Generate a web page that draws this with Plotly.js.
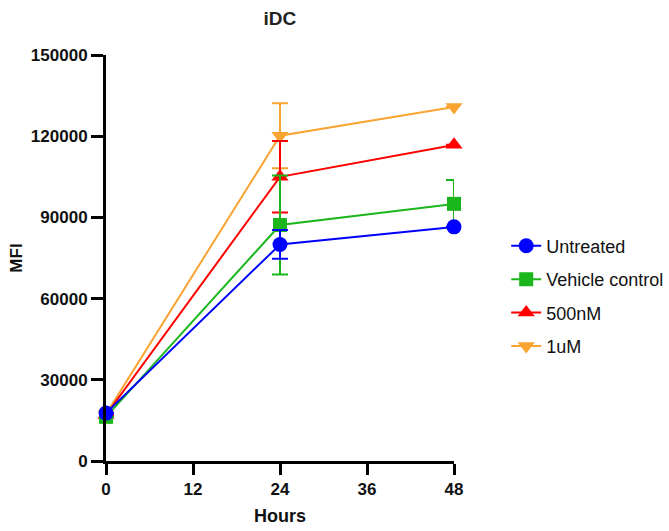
<!DOCTYPE html>
<html>
<head>
<meta charset="utf-8">
<script src="https://cdn.plot.ly/plotly-3.0.1.min.js"></script>
<style>html,body{margin:0;padding:0;background:#fff;}#chart{width:669px;height:531px;}</style>
</head>
<body>
<div id="chart"></div>
<script>
const hours = [0, 24, 48];
const seriesNames = ["Untreated", "Vehicle control", "500nM", "1uM"];
const untreated = [17700, 80000, 86500];
const untreatedErr = [0, 5300, 0];
const vehicle = [16300, 87200, 95000];
const vehicleErr = [0, 18300, 8800];
const nm500 = [17000, 105000, 116800];
const nm500Err = [0, 13200, 0];
const um1 = [17300, 120200, 130800];
const um1Err = [0, 12000, 0];
const xTicks = [0, 12, 24, 36, 48];
const yTicks = [0, 30000, 60000, 90000, 120000, 150000];

const colors = ["#0000ff", "#1bb61b", "#ff0000", "#f9a431"];
const symbols = ["circle", "square", "triangle-up", "triangle-down"];
const sizes = [15, 14, 15, 15];
const values = [untreated, vehicle, nm500, um1];
const errs = [untreatedErr, vehicleErr, nm500Err, um1Err];

const traces = [];
for (let i = seriesNames.length - 1; i >= 0; i--) {
  traces.push({
    x: hours, y: values[i], name: seriesNames[i], type: "scatter", mode: "lines+markers",
    legendrank: i + 1, legendgroup: "g" + i,
    line: {color: colors[i], width: 2},
    marker: {color: colors[i], symbol: symbols[i], size: sizes[i]},
    error_y: {type: "data", array: errs[i], visible: true, color: colors[i], thickness: 2, width: 8},
    cliponaxis: false
  });
}

const layout = {
  width: 669, height: 531,
  margin: {l: 106, r: 215, t: 55, b: 70, autoexpand: false},
  paper_bgcolor: "#fff", plot_bgcolor: "#fff",
  font: {family: "Liberation Sans, Arial, sans-serif", color: "#000"},
  title: {text: "<b>iDC</b>", x: 0.4185, xanchor: "center", y: 0.966, yanchor: "middle", font: {size: 19, color: "#222"}},
  xaxis: {
    range: [0, 48], tickvals: xTicks, ticktext: xTicks.map(v => "<b>" + v + "</b>"),
    showgrid: false, zeroline: false, showline: true, linecolor: "#000", linewidth: 3,
    ticks: "outside", ticklen: 11, tickwidth: 3, tickcolor: "#000",
    tickfont: {size: 17, color: "#111"},
    title: {text: "<b>Hours</b>", font: {size: 18, color: "#111"}, standoff: 11}
  },
  yaxis: {
    range: [0, 150000], tickvals: yTicks, ticktext: yTicks.map(v => "<b>" + v + "</b>"),
    showgrid: false, zeroline: false, showline: true, linecolor: "#000", linewidth: 3,
    ticks: "outside", ticklen: 12, tickwidth: 3, tickcolor: "#000",
    tickfont: {size: 17, color: "#111"},
    title: {text: "<b>MFI</b>", font: {size: 17, color: "#111"}, standoff: 4}
  },
  legend: {
    x: 1.15, y: 0.575, xanchor: "left", yanchor: "top",
    traceorder: "grouped", tracegroupgap: 7,
    font: {size: 18, color: "#111"}, bgcolor: "rgba(0,0,0,0)"
  },
  showlegend: true
};

Plotly.newPlot("chart", traces, layout, {displayModeBar: false, staticPlot: true});
</script>
</body>
</html>
